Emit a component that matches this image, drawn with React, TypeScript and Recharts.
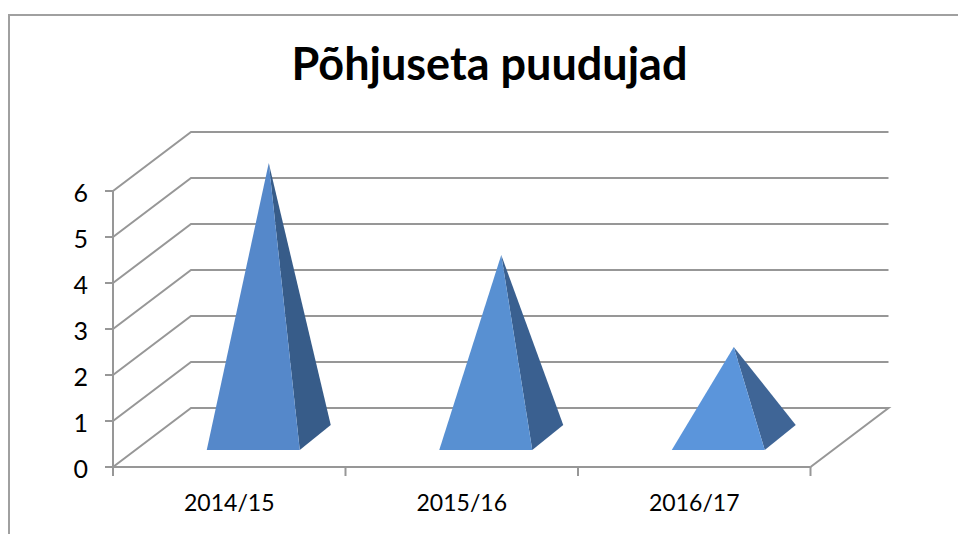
import { Bar, BarChart, CartesianGrid, XAxis, YAxis } from "recharts";

const categories = ["2014/15", "2015/16", "2016/17"];
const values = [6, 4, 2];
const yTicks = [0, 1, 2, 3, 4, 5, 6];
const title = "Põhjuseta puudujad";

const frontColors = ["#5588ca", "#5890d2", "#5b95db"];
const sideColors = ["#375c89", "#3a6090", "#3f6596"];

const FONT = "Lato, sans-serif";
const AXIS_COLOR = "#979797";
const LINE_WIDTH = 2;
const WIDTH = 958;
const HEIGHT = 534;
const AXIS_LEFT = 113;
const AXIS_BOTTOM = 67;
const MARGIN = { top: 191, right: 147.5, bottom: 0, left: 0 };
const BAND = (WIDTH - AXIS_LEFT - MARGIN.right) / categories.length;

// how far the back wall sits from the front plane
const DEPTH_X = 78;
const DEPTH_Y = -59;

const data = categories.map((period, i) => ({ period, value: values[i] }));

/** Grid line running along the side wall and then across the back wall. */
function WallLine({ x1, y1, x2, y2 }: any) {
  const isFloor = Math.abs(y1 - (HEIGHT - AXIS_BOTTOM)) < 1;
  const points = [
    `${x1},${y1}`,
    `${x1 + DEPTH_X},${y1 + DEPTH_Y}`,
    `${x2 + DEPTH_X},${y2 + DEPTH_Y}`,
  ];
  // the floor also closes on the right hand side
  if (isFloor) points.push(`${x2},${y2}`);
  return <polyline points={points.join(" ")} fill="none" stroke={AXIS_COLOR} strokeWidth={LINE_WIDTH} />;
}

/** Pyramid faces, worked out from the rectangle the bar scale gives us. */
function Pyramid({ x, y, width, height, index }: any) {
  const left = x + 24;
  const right = left + width;
  const base = y + height - 17;
  const apexX = left + width / 2 + 15.5;
  const apexY = y - 28;
  return (
    <g>
      <polygon
        points={`${apexX},${apexY} ${right},${base} ${right + 31},${base - 25}`}
        fill={sideColors[index]}
      />
      <polygon
        points={`${apexX},${apexY} ${left},${base} ${right},${base}`}
        fill={frontColors[index]}
      />
    </g>
  );
}

function CategoryTick({ x, y, payload, index }: any) {
  const mark = (at: number) => (
    <line x1={at} x2={at} y1={y} y2={y + 9} stroke={AXIS_COLOR} strokeWidth={LINE_WIDTH} />
  );
  return (
    <g>
      {mark(x - BAND / 2)}
      {index === categories.length - 1 && mark(x + BAND / 2)}
      <text x={x} y={y + 44} textAnchor="middle" fontFamily={FONT} fontSize={23} fill="#000">
        {payload.value}
      </text>
    </g>
  );
}

function ValueTick({ x, y, payload }: any) {
  return (
    <text x={x} y={y + 11} textAnchor="end" fontFamily={FONT} fontSize={25} fill="#000">
      {payload.value}
    </text>
  );
}

export default function App() {
  return (
    <div style={{ position: "absolute", left: 0, top: 0, width: WIDTH, height: HEIGHT, overflow: "hidden" }}>
      <div
        style={{
          position: "absolute",
          left: 8,
          top: 14,
          right: 0,
          bottom: 0,
          borderTop: "2px solid #a0a0a0",
          borderLeft: "2px solid #a0a0a0",
        }}
      />
      <div
        style={{
          position: "absolute",
          left: 0,
          width: 979,
          top: 35,
          textAlign: "center",
          fontFamily: FONT,
          fontWeight: 700,
          fontSize: 45,
          lineHeight: "56px",
          color: "#000",
        }}
      >
        {title}
      </div>
      <div style={{ position: "absolute", left: 0, top: 0 }}>
        <BarChart width={WIDTH} height={HEIGHT} data={data} margin={MARGIN} barCategoryGap="30%">
          <CartesianGrid vertical={false} horizontal={(props: any) => <WallLine key={props.key ?? props.y1} {...props} />} />
          <XAxis
            dataKey="period"
            height={AXIS_BOTTOM}
            tickLine={false}
            tickSize={0}
            tickMargin={0}
            axisLine={{ stroke: AXIS_COLOR, strokeWidth: LINE_WIDTH }}
            tick={<CategoryTick />}
            interval={0}
          />
          <YAxis
            width={AXIS_LEFT}
            domain={[0, 6]}
            ticks={yTicks}
            interval={0}
            tickSize={8}
            tickMargin={17}
            tickLine={{ stroke: AXIS_COLOR, strokeWidth: LINE_WIDTH }}
            axisLine={{ stroke: AXIS_COLOR, strokeWidth: LINE_WIDTH }}
            tick={<ValueTick />}
          />
          <Bar dataKey="value" isAnimationActive={false} shape={<Pyramid />} />
        </BarChart>
      </div>
    </div>
  );
}
